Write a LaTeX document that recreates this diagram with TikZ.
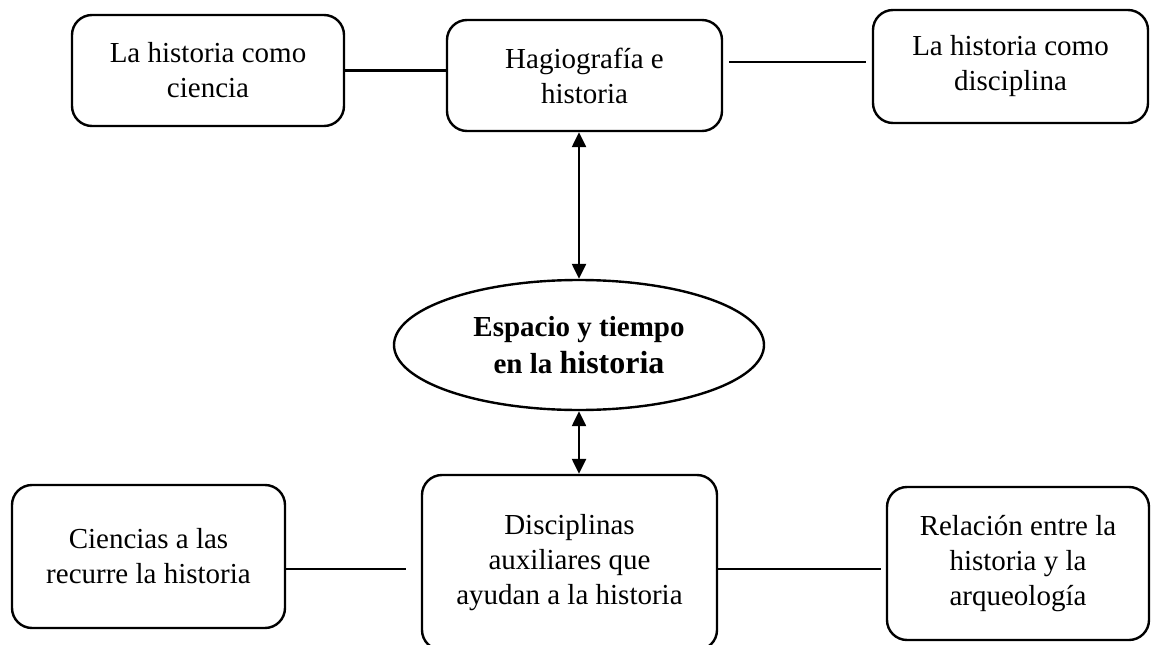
\documentclass[tikz,border=0pt]{standalone}
\usepackage{fontspec}
\setmainfont{Liberation Serif}
\usetikzlibrary{arrows.meta,shapes.geometric}

\begin{document}
\begin{tikzpicture}[x=1pt,y=-1pt,line width=2.4pt,
    caja/.style={draw,rounded corners=20pt,align=center,inner sep=0pt,
      font=\fontsize{29}{35}\selectfont},
    flecha/.style={{Triangle[width=14pt,length=15pt]}-{Triangle[width=14pt,length=15pt]},line width=2.4pt}]
    \useasboundingbox (0,0) rectangle (1152,645);

      \node[caja,minimum width=272,minimum height=111] (ciencia) at (208,70.5) {La historia como\\ciencia};
      \node[caja,minimum width=275,minimum height=111] (hagio) at (584.5,75.5) {Hagiograf\'ia e\\historia};
      \node[caja,minimum width=275,minimum height=113] (disc) at (1010.5,66.5) {La historia como\\disciplina};

      \node[draw,ellipse,minimum width=370,minimum height=130,inner sep=0pt,align=center,
        font=\fontsize{29}{37}\selectfont\bfseries] (tema) at (579,345)
        {Espacio y tiempo\\en la {\fontsize{32}{37}\selectfont historia}};

      \node[caja,minimum width=273,minimum height=143] (recurre) at (148.5,556.5) {Ciencias a las\\recurre la historia};
      \node[caja,minimum width=295,minimum height=175] (aux) at (569.5,562.5) {Disciplinas\\auxiliares que\\ayudan a la historia};
      \node[caja,minimum width=262,minimum height=153] (arqueo) at (1018,563.5) {Relaci\'on entre la\\historia y la\\arqueolog\'ia};

      \coordinate (alto) at (0,62);
      \coordinate (bajo) at (0,569);

      \draw (ciencia.east) -- (ciencia.east -| hagio.west);
      \draw[shorten <=6pt,shorten >=6pt] (hagio.east |- alto) -- (disc.west |- alto);
      \draw[shorten >=15pt] (recurre.east |- bajo) -- (aux.west |- bajo);
      \draw[shorten >=5pt] (aux.east |- bajo) -- (arqueo.west |- bajo);

      \draw[flecha] (tema.north |- hagio.south) -- (tema.north);
      \draw[flecha] (tema.south) -- (tema.south |- aux.north);
    \end{tikzpicture}
\end{document}
